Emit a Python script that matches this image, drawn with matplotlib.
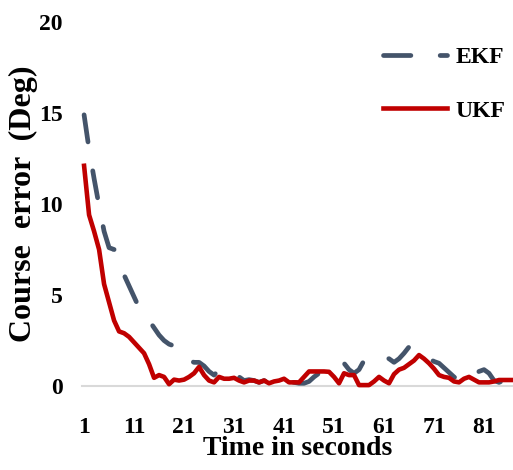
import matplotlib
matplotlib.use("Agg")
from matplotlib import pyplot as plt

seconds = list(range(1, 88))

ekf_error = [
    14.9, 13.0, 11.4, 9.9, 8.5, 7.6, 7.5, 6.7, 6.1, 5.5,
    4.9, 4.3, 3.9, 3.6, 3.2, 2.8, 2.5, 2.3, 2.2, 2.0,
    1.9, 1.4, 1.3, 1.3, 1.1, 0.8, 0.6, 0.9, 0.7, 0.7,
    0.75, 0.5, 0.3, 0.35, 0.3, 0.2, 0.3, 0.2, 0.25, 0.3,
    0.3, 0.2, 0.2, 0.15, 0.15, 0.25, 0.5, 0.7, 0.8, 0.95,
    1.05, 1.15, 1.25, 0.9, 0.7, 0.9, 1.4, 1.6, 1.7, 1.65,
    1.55, 1.5, 1.3, 1.5, 1.8, 2.15, 2.1, 1.8, 1.6, 1.5,
    1.35, 1.25, 1.0, 0.75, 0.5, 0.3, 0.2, 0.35, 0.6, 0.8,
    0.9, 0.7, 0.3, 0.2, 0.3, 0.45, 0.6,
]

ukf_error = [
    12.1, 9.4, 8.5, 7.5, 5.6, 4.6, 3.6, 3.0, 2.9, 2.7,
    2.4, 2.1, 1.8, 1.2, 0.45, 0.6, 0.5, 0.1, 0.35, 0.3,
    0.35, 0.5, 0.7, 1.05, 0.6, 0.3, 0.2, 0.5, 0.4, 0.4,
    0.45, 0.3, 0.2, 0.3, 0.3, 0.2, 0.3, 0.15, 0.25, 0.3,
    0.4, 0.2, 0.2, 0.2, 0.5, 0.8, 0.8, 0.8, 0.8, 0.78,
    0.5, 0.15, 0.7, 0.6, 0.6, 0.05, 0.05, 0.05, 0.25, 0.5,
    0.3, 0.15, 0.65, 0.9, 1.0, 1.2, 1.4, 1.7, 1.5, 1.25,
    0.95, 0.6, 0.5, 0.45, 0.25, 0.2, 0.4, 0.5, 0.35, 0.2,
    0.2, 0.2, 0.25, 0.33, 0.33, 0.33, 0.33,
]

x_ticks = [1, 11, 21, 31, 41, 51, 61, 71, 81]
y_ticks = [0, 5, 10, 15, 20]


def main():
    plt.rcParams["font.family"] = ["Liberation Serif", "DejaVu Serif"]
    plt.rcParams["font.weight"] = "bold"

    fig = plt.figure(figsize=(5.13, 4.70), dpi=100)
    ax = fig.add_axes([0.16, 0.1787, 0.84, 0.7745])

    ax.axhline(0, color="#d9d9d9", lw=1.5, zorder=1, clip_on=False)
    ax.plot(seconds, ekf_error, color="#44546a", lw=3.4,
            linestyle=(0, (5.8, 6.2)), dash_capstyle="round",
            label="EKF", zorder=2, clip_on=False)
    ax.plot(seconds, ukf_error, color="#c00000", lw=3.3,
            solid_joinstyle="round", label="UKF", zorder=3, clip_on=False)

    ax.set_xlim(0.6, 86.8)
    ax.set_ylim(0, 20)
    ax.set_xticks(x_ticks)
    ax.set_yticks(y_ticks)
    ax.tick_params(axis="x", length=0, pad=22, labelsize=17)
    ax.tick_params(axis="y", length=0, pad=14, labelsize=17)
    for side in ["top", "right", "bottom", "left"]:
        ax.spines[side].set_visible(False)

    ax.set_xlabel("Time in seconds", fontsize=20, fontweight="bold")
    ax.xaxis.set_label_coords(0.5, -0.138)
    ax.set_ylabel("Course  error  (Deg)", fontsize=23, fontweight="bold")
    ax.yaxis.set_label_coords(-0.102, 0.5)

    fig.legend(loc="upper left", bbox_to_anchor=(0.724, 0.926), frameon=False,
               fontsize=17, handlelength=2.7, handletextpad=0.35,
               labelspacing=1.35, borderpad=0)

    fig.savefig("out.png", dpi=100)


if __name__ == "__main__":
    main()
